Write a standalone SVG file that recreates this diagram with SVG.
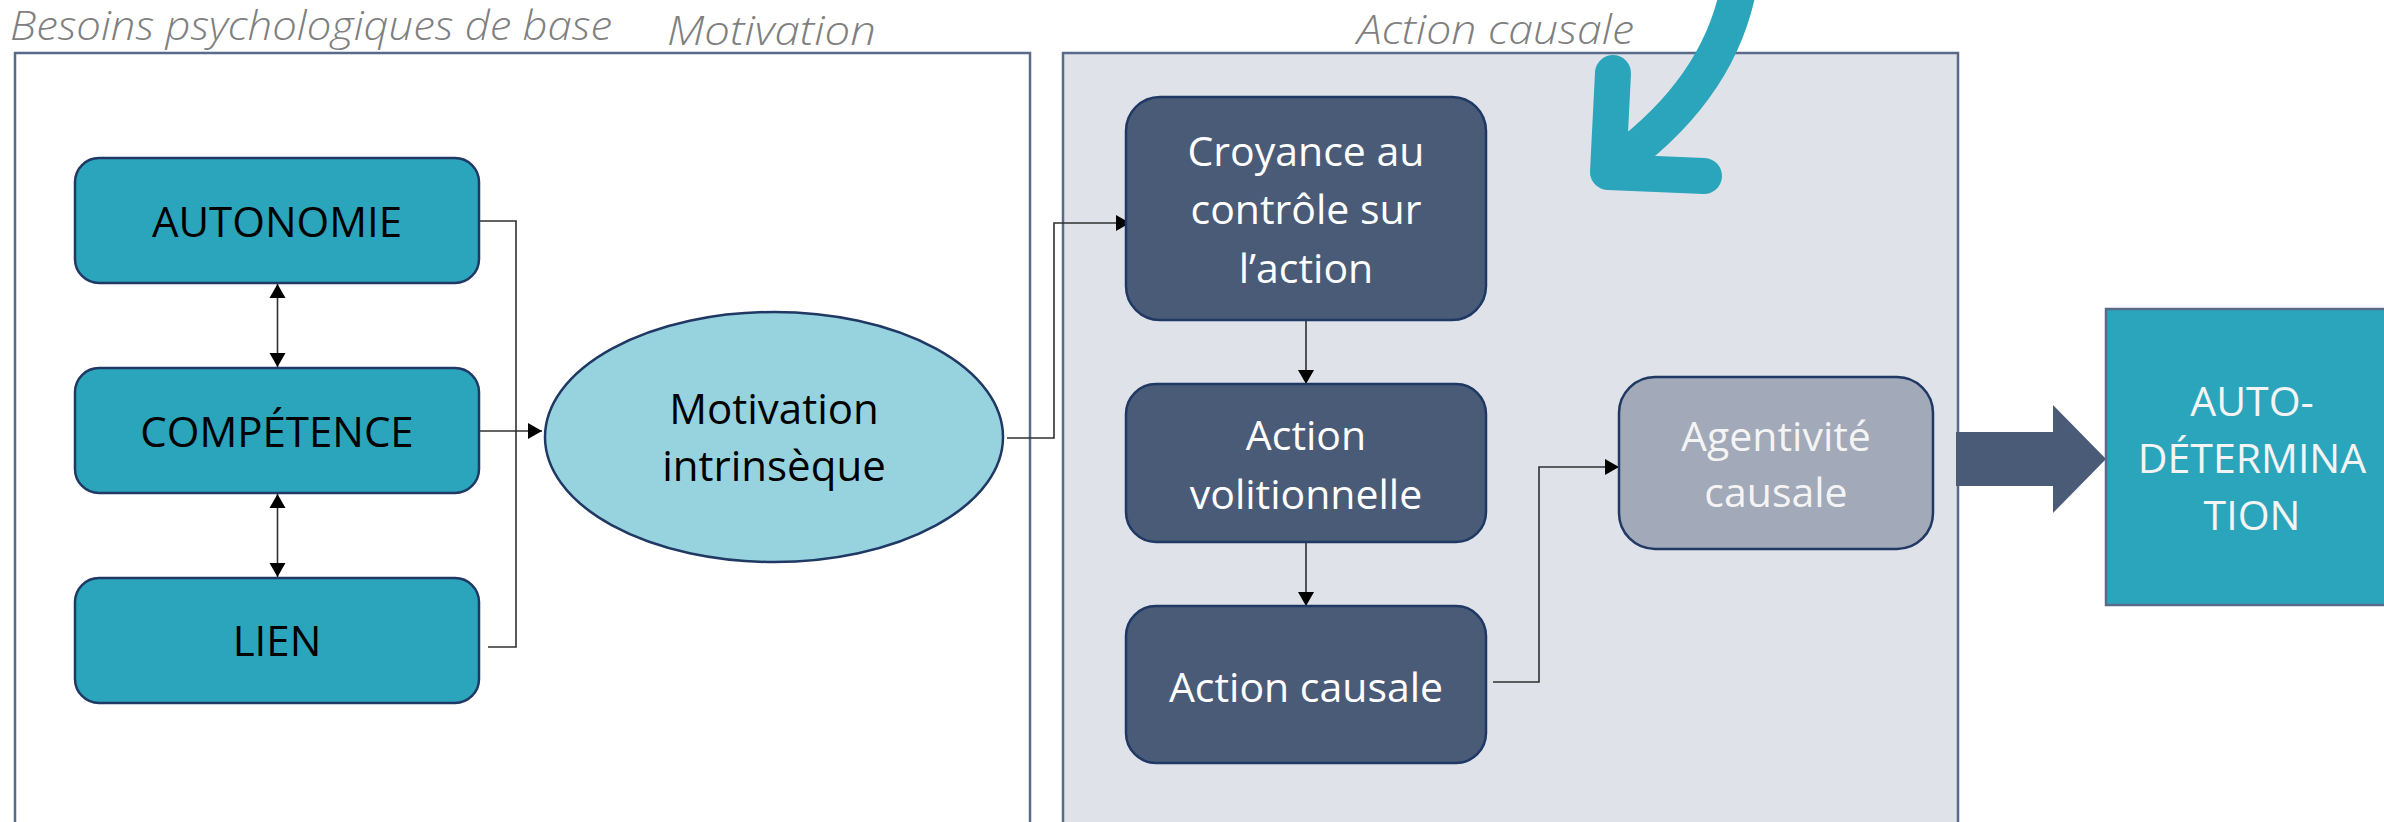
<svg xmlns="http://www.w3.org/2000/svg" width="2384" height="822" viewBox="0 0 2384 822">
<style>
  text { font-family: "Open Sans", "Liberation Sans", sans-serif; text-anchor: middle; }
  .title { font-style: italic; font-weight: 300; font-size: 40px; fill: #7f7f7f; text-anchor: start; }
  .frame { stroke: #5a6b8a; stroke-width: 2.5; }
  .teal { fill: #2ba5bc; stroke: #1f3864; stroke-width: 2.5; }
  .dark { fill: #4a5b78; stroke: #1f3864; stroke-width: 2.5; }
  .blk { font-size: 42px; fill: #000; }
  .wht { font-size: 41px; fill: #ffffff; }
  .lite { font-size: 41px; fill: #f4f4f4; }
  .conn { fill: none; stroke: #303030; stroke-width: 1.6; }
</style>
<defs>
  <marker id="ah" markerUnits="userSpaceOnUse" markerWidth="16" markerHeight="18" refX="14" refY="8" orient="auto-start-reverse" viewBox="0 0 16 16">
    <path d="M0,0 L14,8 L0,16 Z" fill="#000"/>
  </marker>
</defs>
<rect width="2384" height="822" fill="#ffffff"/>

<g id="frames">
  <rect x="15" y="53" width="1015" height="800" fill="#ffffff" class="frame"/>
  <rect x="1063" y="53" width="895" height="800" fill="#dfe2e8" class="frame"/>
</g>

<g id="titles">
  <text class="title" x="10" y="40" textLength="602" lengthAdjust="spacingAndGlyphs">Besoins psychologiques de base</text>
  <text class="title" x="667" y="45" textLength="209" lengthAdjust="spacingAndGlyphs">Motivation</text>
  <text class="title" x="1357" y="44" textLength="277" lengthAdjust="spacingAndGlyphs">Action causale</text>
</g>

<g id="curved-arrow" fill="none" stroke="#2ba5bc" stroke-width="36" stroke-linecap="round" stroke-linejoin="round">
  <path d="M1740,-20 Q1722,90 1610,168"/>
  <polyline points="1613,73 1608,172 1704,176"/>
</g>

<g id="connectors">
  <path class="conn" d="M479,221 H516 V647 H488"/>
  <path class="conn" d="M479,431 H542" marker-end="url(#ah)"/>
  <path class="conn" d="M277.5,284 V367" marker-start="url(#ah)" marker-end="url(#ah)"/>
  <path class="conn" d="M277.5,494 V577" marker-start="url(#ah)" marker-end="url(#ah)"/>
  <path class="conn" d="M1007,438 H1054 V223 H1130" marker-end="url(#ah)"/>
  <path class="conn" d="M1306,320 V384" marker-end="url(#ah)"/>
  <path class="conn" d="M1306,542 V606" marker-end="url(#ah)"/>
  <path class="conn" d="M1493,682 H1539 V467 H1619" marker-end="url(#ah)"/>
  <polygon points="1956,432 2053,432 2053,405 2106,459 2053,513 2053,486 1956,486" fill="#4a5b78"/>
</g>

<g id="autonomie">
  <rect x="75" y="158" width="404" height="125" rx="24" class="teal"/>
  <text class="blk" x="277" y="237">AUTONOMIE</text>
</g>
<g id="competence">
  <rect x="75" y="368" width="404" height="125" rx="24" class="teal"/>
  <text class="blk" x="277" y="447">COMPÉTENCE</text>
</g>
<g id="lien">
  <rect x="75" y="578" width="404" height="125" rx="24" class="teal"/>
  <text class="blk" x="277" y="656">LIEN</text>
</g>

<g id="motivation-intrinseque">
  <ellipse cx="774" cy="437" rx="229" ry="125" fill="#97d3df" stroke="#1f3864" stroke-width="2.5"/>
  <text class="blk" x="774" y="424">Motivation</text>
  <text class="blk" x="774" y="481">intrinsèque</text>
</g>

<g id="croyance">
  <rect x="1126" y="97" width="360" height="223" rx="34" class="dark"/>
  <text class="wht" x="1306" y="166">Croyance au</text>
  <text class="wht" x="1306" y="224">contrôle sur</text>
  <text class="wht" x="1306" y="283">l’action</text>
</g>

<g id="action-volitionnelle">
  <rect x="1126" y="384" width="360" height="158" rx="30" class="dark"/>
  <text class="wht" x="1306" y="450">Action</text>
  <text class="wht" x="1306" y="509">volitionnelle</text>
</g>

<g id="action-causale">
  <rect x="1126" y="606" width="360" height="157" rx="30" class="dark"/>
  <text class="wht" x="1306" y="702">Action causale</text>
</g>

<g id="agentivite">
  <rect x="1619" y="377" width="314" height="172" rx="36" fill="#a2a9b8" stroke="#1f3864" stroke-width="2.5"/>
  <text class="lite" x="1776" y="451">Agentivité</text>
  <text class="lite" x="1776" y="507">causale</text>
</g>

<g id="auto-determination">
  <rect x="2106" y="309" width="300" height="296" fill="#2ba5bc" stroke="#5a6b8a" stroke-width="2.5"/>
  <text class="lite" x="2252" y="416">AUTO-</text>
  <text class="lite" x="2252" y="473">DÉTERMINA</text>
  <text class="lite" x="2252" y="530">TION</text>
</g>
</svg>
